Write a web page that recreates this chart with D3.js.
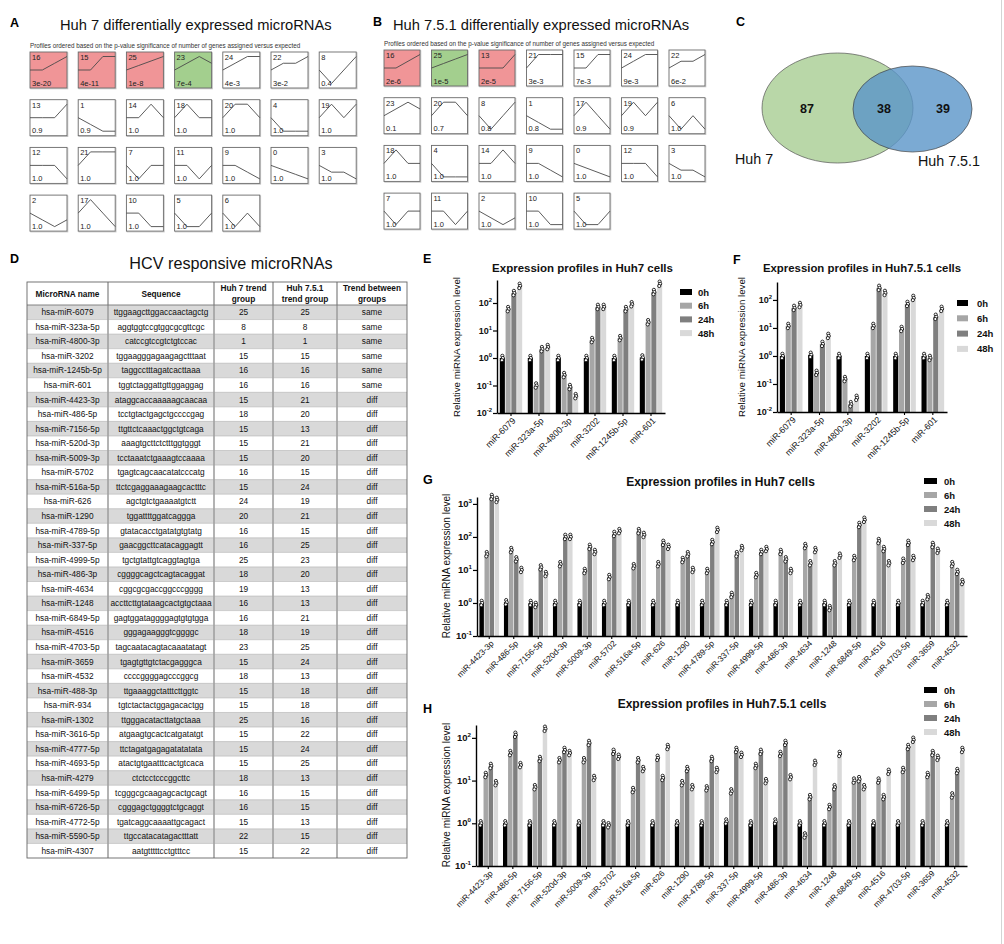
<!DOCTYPE html>
<html>
<head>
<meta charset="utf-8">
<script src="https://cdn.jsdelivr.net/npm/d3@7"></script>
<style>
body { margin: 0; background: #fff; }
svg { display: block; font-family: "Liberation Sans", Arial, sans-serif; }
</style>
</head>
<body>
<svg id="fig" width="1004" height="944"></svg>
<script>
// ---- STEM profiles (values at the 4 time points, relative to 0h) ----
var profileShapes = [
    [0,-1,-2,-3], [0,-1,-2,-2], [0,-1,-2,-1], [0,-1,-1,-2], [0,-1,-1,-1],
    [0,-1,-1,0],  [0,-1,0,-1],  [0,-1,0,0],   [0,-1,0,1],   [0,0,-1,-2],
    [0,0,-1,-1],  [0,0,-1,0],   [0,0,0,-1],   [0,0,0,1],    [0,0,1,0],
    [0,0,1,1],    [0,0,1,2],    [0,1,0,-1],   [0,1,0,0],    [0,1,0,1],
    [0,1,1,0],    [0,1,1,1],    [0,1,1,2],    [0,1,2,1],    [0,1,2,2],
    [0,1,2,3]
];
var huh7Order = [16,15,25,23,24,22,8, 13,1,14,18,20,4,19, 12,21,7,11,9,0,3, 2,17,10,5,6];
var huh7PValues = ['3e-20','4e-11','1e-8','7e-4','4e-3','3e-2','0.4',
    '0.9','0.9','1.0','1.0','1.0','1.0','1.0',
    '1.0','1.0','1.0','1.0','1.0','1.0','1.0',
    '1.0','1.0','1.0','1.0','1.0'];
var huh7Red = [16,15,25], huh7Green = [23];
var huh751Order = [16,25,13,21,15,24,22, 23,20,8,1,17,19,6, 18,4,14,9,0,12,3, 7,11,2,10,5];
var huh751PValues = ['2e-6','1e-5','2e-5','3e-3','7e-3','9e-3','6e-2',
    '0.1','0.7','0.8','0.8','0.9','0.9','1.0',
    '1.0','1.0','1.0','1.0','1.0','1.0','1.0',
    '1.0','1.0','1.0','1.0','1.0'];
var huh751Red = [16,13], huh751Green = [25];

// ---- Venn ----
var vennCounts = [87, 38, 39];
var vennLabels = ['Huh 7', 'Huh 7.5.1'];

// ---- Table D ----
var tableHeaders = [['MicroRNA name'], ['Sequence'], ['Huh 7 trend','group'], ['Huh 7.5.1','trend group'], ['Trend between','groups']];
var mirNames = ['hsa-miR-6079','hsa-miR-323a-5p','hsa-miR-4800-3p','hsa-miR-3202','hsa-miR-1245b-5p','hsa-miR-601',
    'hsa-miR-4423-3p','hsa-miR-486-5p','hsa-miR-7156-5p','hsa-miR-520d-3p','hsa-miR-5009-3p','hsa-miR-5702',
    'hsa-miR-516a-5p','hsa-miR-626','hsa-miR-1290','hsa-miR-4789-5p','hsa-miR-337-5p','hsa-miR-4999-5p',
    'hsa-miR-486-3p','hsa-miR-4634','hsa-miR-1248','hsa-miR-6849-5p','hsa-miR-4516','hsa-miR-4703-5p',
    'hsa-miR-3659','hsa-miR-4532','hsa-miR-488-3p','hsa-miR-934','hsa-miR-1302','hsa-miR-3616-5p',
    'hsa-miR-4777-5p','hsa-miR-4693-5p','hsa-miR-4279','hsa-miR-6499-5p','hsa-miR-6726-5p','hsa-miR-4772-5p',
    'hsa-miR-5590-5p','hsa-miR-4307'];
var sequences = ['ttggaagcttggaccaactagctg','aggtggtccgtggcgcgttcgc','catccgtccgtctgtccac','tggaagggagaagagctttaat',
    'taggcctttagatcacttaaa','tggtctaggattgttggaggag','ataggcaccaaaaagcaacaa','tcctgtactgagctgccccgag',
    'ttgttctcaaactggctgtcaga','aaagtgcttctctttggtgggt','tcctaaatctgaaagtccaaaa','tgagtcagcaacatatcccatg',
    'ttctcgaggaaagaagcactttc','agctgtctgaaaatgtctt','tggattttggatcaggga','gtatacacctgatatgtgtatg',
    'gaacggcttcatacaggagtt','tgctgtattgtcaggtagtga','cggggcagctcagtacaggat','cggcgcgaccggcccgggg',
    'accttcttgtataagcactgtgctaaa','gagtggataggggagtgtgtgga','gggagaagggtcggggc','tagcaatacagtacaaatatagt',
    'tgagtgttgtctacgagggca','ccccggggagcccggcg','ttgaaaggctatttcttggtc','tgtctactactggagacactgg',
    'ttgggacatacttatgctaaa','atgaagtgcactcatgatatgt','ttctagatgagagatatatata','atactgtgaatttcactgtcaca',
    'ctctcctcccggcttc','tcgggcgcaagagcactgcagt','cgggagctggggtctgcaggt','tgatcaggcaaaattgcagact',
    'ttgccatacatagactttatt','aatgtttttcctgtttcc'];
var huh7Trend = [25,8,1,15,16,16,15,18,15,15,15,16,15,24,20,16,16,25,18,19,16,16,18,23,15,18,15,15,25,15,15,15,18,16,16,15,22,15];
var huh751Trend = [25,8,1,15,16,16,21,20,13,21,20,15,24,19,21,15,25,23,20,13,13,21,19,25,24,13,18,18,16,22,24,25,13,15,15,13,15,22];
var trendBetween = ['same','same','same','same','same','same','diff','diff','diff','diff','diff','diff','diff',
    'diff','diff','diff','diff','diff','diff','diff','diff','diff','diff','diff','diff','diff','diff','diff',
    'diff','diff','diff','diff','diff','diff','diff','diff','diff','diff'];

// ---- Bar charts ----
var timePoints = ['0h', '6h', '24h', '48h'];
var sixMirs = ['miR-6079','miR-323a-5p','miR-4800-3p','miR-3202','miR-1245b-5p','miR-601'];
var e0h  = [1, 1, 1, 1, 1, 1.05];
var e6h  = [60, 0.1, 0.24, 4.5, 5.3, 20];
var e24h = [230, 2.1, 0.088, 72, 60, 250];
var e48h = [420, 2.5, 0.041, 72, 90, 500];
var f0h  = [1, 1.1, 1, 1, 1, 1];
var f6h  = [11.8, 0.25, 0.15, 11.8, 9.2, 0.85];
var f24h = [52, 2.7, 0.019, 270, 72, 25];
var f48h = [66, 5.2, 0.032, 178, 118, 48];
var twentyMirs = ['miR-4423-3p','miR-486-5p','miR-7156-5p','miR-520d-3p','miR-5009-3p','miR-5702','miR-516a-5p',
    'miR-626','miR-1290','miR-4789-5p','miR-337-5p','miR-4999-5p','miR-486-3p','miR-4634','miR-1248',
    'miR-6849-5p','miR-4516','miR-4703-5p','miR-3659','miR-4532'];
var g0h  = [1,1.05,1,1,1,1,1,1,1,1,1,1,1,1,1,1,1,1,1,1];
var g6h  = [30,40,0.87,15,9.3,6.1,13,15,20,9.3,1.75,7,35,53,0.7,23,75,19,1.5,15];
var g24h = [1620,21,12,100,50,123,150,66,30,70,30,35,21,16,16,230,43,66,57,8.7];
var g48h = [1320,10,7.5,100,35,150,115,50,10,163,46,43,9.3,40,27,330,16,23,38,4.3];
var h0h  = [1,1,1,1,1,1,1,1,1,1,1.1,1,1.1,1,1,1,1,1,1,1];
var h6h  = [13.5,44,7,30,30,0.9,6,34,8.7,6.6,5.6,22,42,0.52,2.4,10,10,17.7,13.5,4.5];
var h24h = [22,118,32,52,76,47,30,11.5,18.6,32,52,47,76,4.1,7,10.8,4.1,61,44,16.7];
var h48h = [8.7,23,163,44,11.5,36,18.6,61,7,17.7,40,9.7,12,26,42,7,16,90,34,52];

var barColors = ['#000000', '#a6a6a6', '#7f7f7f', '#d9d9d9'];
var dotOffsets = [[0, -2.2], [0.5, 0], [-0.4, 2.2]];

var svg = d3.select('#fig');

function letter(t, x, y) {
    svg.append('text').attr('x', x).attr('y', y).attr('font-size', 12.5)
        .attr('font-weight', 'bold').text(t);
}

// right edge rule of the figure
svg.append('line').attr('x1', 1001.5).attr('x2', 1001.5).attr('y1', 0).attr('y2', 944)
    .attr('stroke', '#d4d4d4');

/* ---------- A / B : STEM profile grids ---------- */
function profileGrid(order, pvals, red, green, x0, y0, dx, dy, w, h) {
    var g = svg.append('g');
    order.forEach(function (id, i) {
        var bx = x0 + (i % 7) * dx, by = y0 + Math.floor(i / 7) * dy;
        var fill = red.indexOf(id) >= 0 ? '#f09597' : (green.indexOf(id) >= 0 ? '#a3cf8e' : '#fff');
        g.append('rect').attr('x', bx + 0.8).attr('y', by + 0.8).attr('width', w).attr('height', h)
            .attr('fill', 'none').attr('stroke', '#c8c8c8').attr('stroke-width', 1);
        g.append('rect').attr('x', bx).attr('y', by).attr('width', w).attr('height', h)
            .attr('fill', fill).attr('stroke', '#6a6a6a').attr('stroke-width', 0.9);
        var shape = profileShapes[id];
        var m = d3.max(shape, Math.abs);
        var px = d3.scaleLinear().domain([0, 3]).range([bx, bx + w]);
        var py = d3.scaleLinear().domain([-m, m]).range([by + h / 2 + h * 0.375, by + h / 2 - h * 0.375]);
        var line = d3.line().x(function (d, k) { return px(k); }).y(function (d) { return py(d); });
        g.append('path').datum(shape).attr('d', line).attr('fill', 'none')
            .attr('stroke', '#4a4a4a').attr('stroke-width', 0.9);
        g.append('text').attr('x', bx + 2).attr('y', by + 8).attr('font-size', 7.5)
            .attr('fill', '#222').text(id);
        g.append('text').attr('x', bx + 2).attr('y', by + h - 2.5).attr('font-size', 7.5)
            .attr('fill', '#222').text(pvals[i]);
    });
}

letter('A', 10, 27);
svg.append('text').attr('x', 60).attr('y', 29.5).attr('font-size', 14.7).attr('fill', '#111')
    .text('Huh 7 differentially expressed microRNAs');
svg.append('text').attr('x', 30).attr('y', 47.5).attr('font-size', 6.3).attr('fill', '#333')
    .text('Profiles ordered based on the p-value significance of number of genes assigned versus expected');
profileGrid(huh7Order, huh7PValues, huh7Red, huh7Green, 30, 52, 48.2, 47.7, 37, 36);

letter('B', 373, 26);
svg.append('text').attr('x', 393).attr('y', 29.5).attr('font-size', 14.7).attr('fill', '#111')
    .text('Huh 7.5.1 differentially expressed microRNAs');
svg.append('text').attr('x', 384).attr('y', 45.5).attr('font-size', 6.3).attr('fill', '#333')
    .text('Profiles ordered based on the p-value significance of number of genes assigned versus expected');
profileGrid(huh751Order, huh751PValues, huh751Red, huh751Green, 384, 50, 47.5, 47.7, 36, 36);

/* ---------- C : Venn ---------- */
letter('C', 736, 26);
svg.append('ellipse').attr('cx', 837.5).attr('cy', 108).attr('rx', 75.5).attr('ry', 55)
    .attr('fill', '#b9d7a8').attr('stroke', '#555').attr('stroke-width', 0.7);
svg.append('ellipse').attr('cx', 912.5).attr('cy', 109).attr('rx', 59.5).attr('ry', 43)
    .attr('fill', '#5a95c8').attr('fill-opacity', 0.8).attr('stroke', '#444').attr('stroke-width', 0.7);
[807, 884, 943].forEach(function (x, i) {
    svg.append('text').attr('x', x).attr('y', 112.5).attr('text-anchor', 'middle')
        .attr('font-size', 12.5).attr('font-weight', 'bold').attr('fill', '#111').text(vennCounts[i]);
});
svg.append('text').attr('x', 735).attr('y', 164).attr('font-size', 14.3).attr('fill', '#111').text(vennLabels[0]);
svg.append('text').attr('x', 918).attr('y', 166).attr('font-size', 14.3).attr('fill', '#111').text(vennLabels[1]);

/* ---------- D : table ---------- */
letter('D', 10, 263);
svg.append('text').attr('x', 231).attr('y', 268.5).attr('text-anchor', 'middle').attr('font-size', 16.2)
    .attr('fill', '#111').text('HCV responsive microRNAs');

var colX = [27, 108, 214, 273, 337, 407];
var tTop = 282, tHead = 305, tBot = 858;
var rowH = (tBot - tHead) / mirNames.length;
var tg = svg.append('g');
tg.append('rect').attr('x', colX[0]).attr('y', tTop).attr('width', colX[5] - colX[0])
    .attr('height', tHead - tTop).attr('fill', '#fff');
mirNames.forEach(function (n, i) {
    tg.append('rect').attr('x', colX[0]).attr('y', tHead + i * rowH).attr('width', colX[5] - colX[0])
        .attr('height', rowH).attr('fill', i % 2 === 0 ? '#d9d9d9' : '#fff');
    if (i > 0) {
        tg.append('line').attr('x1', colX[0]).attr('x2', colX[5])
            .attr('y1', tHead + i * rowH).attr('y2', tHead + i * rowH)
            .attr('stroke', '#b0b0b0').attr('stroke-width', 0.6);
    }
});
colX.slice(1, 5).forEach(function (x) {
    tg.append('line').attr('x1', x).attr('x2', x).attr('y1', tTop).attr('y2', tBot)
        .attr('stroke', '#a0a0a0').attr('stroke-width', 1.6);
});
tg.append('line').attr('x1', colX[0]).attr('x2', colX[5]).attr('y1', tHead).attr('y2', tHead)
    .attr('stroke', '#777').attr('stroke-width', 0.9);
tg.append('rect').attr('x', colX[0]).attr('y', tTop).attr('width', colX[5] - colX[0])
    .attr('height', tBot - tTop).attr('fill', 'none').attr('stroke', '#666').attr('stroke-width', 0.9);

tableHeaders.forEach(function (lines, c) {
    var cx = (colX[c] + colX[c + 1]) / 2;
    lines.forEach(function (s, k) {
        var yy = lines.length === 1 ? 296.5 : 290.5 + k * 11;
        tg.append('text').attr('x', cx).attr('y', yy).attr('text-anchor', 'middle')
            .attr('font-size', 8.3).attr('font-weight', 'bold').attr('fill', '#111').text(s);
    });
});
var tableCols = [mirNames, sequences, huh7Trend, huh751Trend, trendBetween];
tableCols.forEach(function (col, c) {
    var cx = (colX[c] + colX[c + 1]) / 2, maxW = colX[c + 1] - colX[c] - 2;
    col.forEach(function (v, i) {
        var t = tg.append('text').attr('x', cx).attr('y', tHead + i * rowH + rowH / 2 + 3)
            .attr('text-anchor', 'middle').attr('font-size', 8.3).attr('fill', '#111').text(v);
        if (t.node().getComputedTextLength() > maxW) {
            t.attr('textLength', maxW).attr('lengthAdjust', 'spacingAndGlyphs');
        }
    });
});

/* ---------- E-H : bar charts ---------- */
function barPanel(p) {
    var g = svg.append('g');
    var x = d3.scaleBand().domain(p.cats).range([p.x0, p.x1]).paddingInner(0.2).paddingOuter(0.1);
    var xi = d3.scaleBand().domain(timePoints).range([0, x.bandwidth()]).paddingInner(0.12);
    var y = d3.scaleLog().domain(p.yDomain).range([p.yBottom, p.yTop]);

    p.series.forEach(function (vals, k) {
        g.append('g').selectAll('rect').data(vals).join('rect')
            .attr('x', function (d, j) { return x(p.cats[j]) + xi(timePoints[k]); })
            .attr('y', function (d) { return y(d); })
            .attr('width', xi.bandwidth())
            .attr('height', function (d) { return p.yBottom - y(d); })
            .attr('fill', barColors[k]);
    });
    p.series.forEach(function (vals, k) {
        vals.forEach(function (v, j) {
            var cx = x(p.cats[j]) + xi(timePoints[k]) + xi.bandwidth() / 2;
            dotOffsets.forEach(function (o) {
                g.append('circle').attr('cx', cx + o[0]).attr('cy', y(v) + o[1]).attr('r', 1.6)
                    .attr('fill', '#fff').attr('stroke', '#000').attr('stroke-width', 0.8);
            });
        });
    });

    var ya = g.append('g').attr('transform', 'translate(' + p.x0 + ',0)')
        .call(d3.axisLeft(y).tickValues(p.ticks).tickSize(4).tickSizeOuter(0).tickFormat(''));
    ya.select('.domain').attr('stroke-width', 1.4);
    ya.selectAll('.tick line').attr('stroke-width', 1.2);
    p.ticks.forEach(function (t) {
        var e = Math.round(Math.log10(t));
        var tx = g.append('text').attr('x', p.x0 - 5).attr('y', y(t) + 3.2).attr('text-anchor', 'end')
            .attr('font-size', p.tickFont).attr('font-weight', 'bold').attr('fill', '#111');
        tx.append('tspan').text('10');
        tx.append('tspan').attr('dy', -4).attr('font-size', p.tickFont * 0.65).text(e);
    });

    var xa = g.append('g').attr('transform', 'translate(0,' + p.yBottom + ')')
        .call(d3.axisBottom(x).tickSize(3).tickSizeOuter(0));
    xa.attr('font-family', null).attr('font-size', null);
    xa.select('.domain').attr('stroke-width', 1.4);
    xa.selectAll('.tick line').attr('stroke-width', 1.1);
    xa.selectAll('text').attr('font-size', p.xFont).attr('fill', '#111').attr('text-anchor', 'end')
        .attr('x', 0).attr('y', 0).attr('dy', '0.35em').attr('transform', 'translate(3,6) rotate(-45)');

    svg.append('text').attr('x', p.titleX).attr('y', p.titleY).attr('text-anchor', 'middle')
        .attr('font-size', p.titleFont).attr('font-weight', 'bold').attr('fill', '#111').text(p.title);
    svg.append('text').attr('transform', 'translate(' + p.labX + ',' + p.labY + ') rotate(-90)')
        .attr('text-anchor', 'middle').attr('font-size', p.labFont).attr('fill', '#111')
        .text('Relative miRNA expression level');

    timePoints.forEach(function (tp, k) {
        var ly = p.legY + k * p.legStep;
        svg.append('rect').attr('x', p.legX).attr('y', ly - 3).attr('width', p.legW).attr('height', 6)
            .attr('fill', barColors[k]);
        svg.append('text').attr('x', p.legTextX).attr('y', ly + 3.5).attr('font-size', 9.5)
            .attr('font-weight', 'bold').attr('fill', '#111').text(tp);
    });
}

letter('E', 423, 263);
barPanel({
    cats: sixMirs, series: [e0h, e6h, e24h, e48h],
    x0: 497, x1: 665, yDomain: [0.01, 686], yBottom: 413, yTop: 280,
    ticks: [0.01, 0.1, 1, 10, 100], tickFont: 9, xFont: 8.8,
    title: 'Expression profiles in Huh7 cells', titleX: 582.5, titleY: 272, titleFont: 11.5,
    labX: 460, labY: 347, labFont: 9.7,
    legX: 680, legW: 12, legY: 292, legStep: 13.7, legTextX: 698
});

letter('F', 733, 264);
barPanel({
    cats: sixMirs, series: [f0h, f6h, f24h, f48h],
    x0: 777, x1: 947, yDomain: [0.01, 437], yBottom: 412, yTop: 282,
    ticks: [0.01, 0.1, 1, 10, 100], tickFont: 9, xFont: 8.8,
    title: 'Expression profiles in Huh7.5.1 cells', titleX: 862, titleY: 272, titleFont: 11.4,
    labX: 745, labY: 347, labFont: 9.7,
    legX: 957, legW: 11, legY: 303, legStep: 15.3, legTextX: 977
});

letter('G', 423, 484);
barPanel({
    cats: twentyMirs, series: [g0h, g6h, g24h, g48h],
    x0: 477, x1: 967, yDomain: [0.1, 1620], yBottom: 636, yTop: 497,
    ticks: [0.1, 1, 10, 100, 1000], tickFont: 9.5, xFont: 8.3,
    title: 'Expression profiles in Huh7 cells', titleX: 720.5, titleY: 486, titleFont: 12,
    labX: 450, labY: 566, labFont: 10,
    legX: 924, legW: 13, legY: 481, legStep: 14, legTextX: 944
});

letter('H', 423, 713);
barPanel({
    cats: twentyMirs, series: [h0h, h6h, h24h, h48h],
    x0: 476, x1: 967, yDomain: [0.1, 200], yBottom: 866, yTop: 725,
    ticks: [0.1, 1, 10, 100], tickFont: 9.5, xFont: 8.3,
    title: 'Expression profiles in Huh7.5.1 cells', titleX: 722, titleY: 708, titleFont: 12,
    labX: 450, labY: 795, labFont: 10,
    legX: 924, legW: 13, legY: 690, legStep: 14, legTextX: 944
});
</script>
</body>
</html>
